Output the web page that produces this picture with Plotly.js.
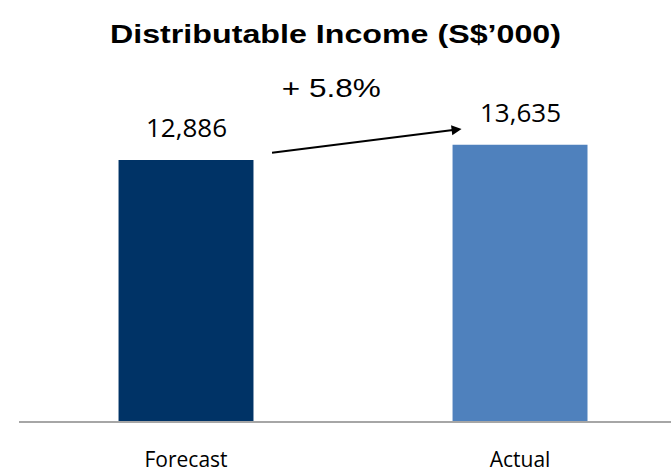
<!DOCTYPE html>
<html>
<head>
<meta charset="utf-8">
<script src="https://cdn.plot.ly/plotly-3.0.1.min.js"></script>
<style>html,body{margin:0;padding:0;background:#fff;}#chart{width:671px;height:474px;}</style>
</head>
<body>
<div id="chart"></div>
<script>
var categories = ["Forecast", "Actual"];
var values = [12886, 13635];
var barColors = ["#003366", "#4F81BD"];
var valueLabels = ["12,886", "13,635"];
var changeLabel = "+ 5.8%";
var titleText = "Distributable Income (S$’000)";

var trace = {
  type: "bar",
  x: categories,
  y: values,
  marker: {color: barColors},
  hoverinfo: "skip"
};

var annotations = categories.map(function (c, i) {
  return {
    x: c, y: values[i], xref: "x", yref: "y",
    text: valueLabels[i], showarrow: false,
    yanchor: "bottom", yshift: 13,
    font: {family: "Open Sans, sans-serif", size: 26, color: "#000"}
  };
});
annotations.push({
  x: 0.436, y: 16440, xref: "x", yref: "y",
  text: changeLabel, showarrow: false,
  font: {family: "Liberation Sans, Arial, sans-serif", size: 25, color: "#000"}
});
annotations.push({
  x: 0.825, y: 14416, ax: 0.253, ay: 13231,
  xref: "x", yref: "y", axref: "x", ayref: "y",
  text: "", showarrow: true, arrowhead: 2, arrowsize: 1, arrowwidth: 2, arrowcolor: "#000"
});

var layout = {
  width: 671, height: 474,
  margin: {l: 19, r: 0, t: 80, b: 53},
  paper_bgcolor: "#fff", plot_bgcolor: "#fff",
  showlegend: false,
  bargap: 0.596,
  title: {
    text: "<b>" + titleText + "</b>",
    x: 0.5, xref: "container", y: 1 - 34 / 474, yref: "container", yanchor: "middle",
    font: {family: "Liberation Sans, Arial, sans-serif", size: 26, color: "#000"}
  },
  xaxis: {
    type: "category", range: [-0.5, 1.452],
    showline: true, linecolor: "#A6A6A6", linewidth: 2,
    ticks: "", showgrid: false, zeroline: false,
    ticklabelstandoff: 19,
    tickfont: {family: "Open Sans, sans-serif", size: 21, color: "#000"}
  },
  yaxis: {
    range: [0, 16835], visible: false, showgrid: false, zeroline: false
  },
  annotations: annotations
};

Plotly.newPlot("chart", [trace], layout, {displayModeBar: false, staticPlot: true}).then(function (gd) {
  // the reference's Arial texts are horizontally stretched; reproduce that stretch
  var t = gd.querySelector(".gtitle");
  if (t) { t.setAttribute("textLength", 451); t.setAttribute("lengthAdjust", "spacingAndGlyphs"); }
  gd.querySelectorAll(".annotation-text").forEach(function (el) {
    if (el.textContent === changeLabel) {
      el.setAttribute("textLength", 99); el.setAttribute("lengthAdjust", "spacingAndGlyphs");
    }
  });
});
</script>
</body>
</html>
